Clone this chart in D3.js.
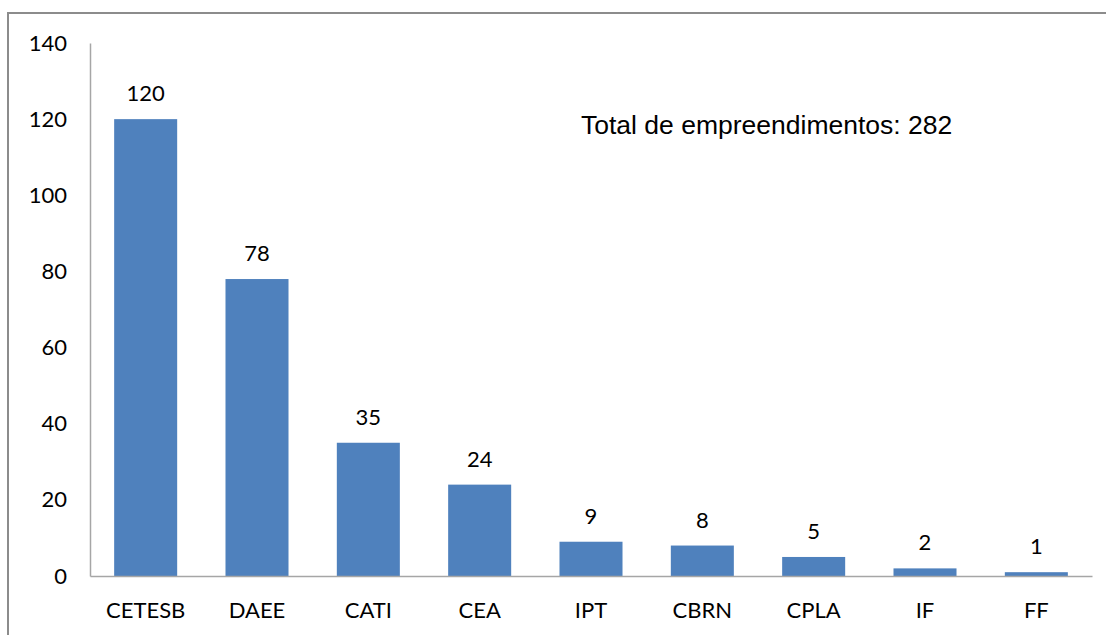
<!DOCTYPE html>
<meta charset="utf-8">
<style>
  body { margin: 0; background: #fff; }
  .tick text { font-family: Lato, "Open Sans", sans-serif; font-size: 22px; fill: #000; }
  .label { font-family: Lato, "Open Sans", sans-serif; font-size: 22px; fill: #000; }
</style>
<body>
<script src="https://d3js.org/d3.v7.min.js"></script>
<script>

// data
var categories = ["CETESB", "DAEE", "CATI", "CEA", "IPT", "CBRN", "CPLA", "IF", "FF"];
var values = [120, 78, 35, 24, 9, 8, 5, 2, 1];
var yTicks = [0, 20, 40, 60, 80, 100, 120, 140];
var totalText = "Total de empreendimentos: 282";

var W = 1106, H = 635;
var margin = {top: 43, right: 14, bottom: 59, left: 90},
    width = 1092 - margin.left,
    height = 576 - margin.top;

var svg = d3.select("body").append("svg")
    .attr("width", W)
    .attr("height", H);

// outer frame (right and bottom edges fall outside the picture)
svg.append("rect")
    .attr("x", 8).attr("y", 13)
    .attr("width", 1110).attr("height", 640)
    .attr("fill", "none")
    .attr("stroke", "#8c8c8c")
    .attr("stroke-width", 2);

var g = svg.append("g")
    .attr("transform", "translate(" + margin.left + "," + margin.top + ")");

var x = d3.scaleBand()
    .domain(categories)
    .range([0, width])
    .paddingInner(0.434)
    .paddingOuter(0.217);

var y = d3.scaleLinear()
    .domain([0, 140])
    .range([height, 0]);

// bars
g.selectAll(".bar")
    .data(values)
  .enter().append("rect")
    .attr("class", "bar")
    .attr("x", function(d, i) { return x(categories[i]); })
    .attr("y", function(d) { return y(d); })
    .attr("width", x.bandwidth())
    .attr("height", function(d) { return height - y(d); })
    .attr("fill", "#4f81bd");

// value labels
g.selectAll(".label")
    .data(values)
  .enter().append("text")
    .attr("class", "label")
    .attr("x", function(d, i) { return x(categories[i]) + x.bandwidth() / 2; })
    .attr("y", function(d) { return y(d) - 18; })
    .attr("text-anchor", "middle")
    .text(function(d) { return d; });

// y axis
var yAxis = g.append("g")
    .call(d3.axisLeft(y).tickValues(yTicks).tickSize(0).tickPadding(23));
yAxis.select(".domain").attr("stroke", "#a6a6a6").attr("stroke-width", 1.5);

// x axis
var xAxis = g.append("g")
    .attr("transform", "translate(0," + height + ")")
    .call(d3.axisBottom(x).tickSize(0).tickPadding(26));
xAxis.select(".domain").attr("stroke", "#a6a6a6").attr("stroke-width", 1.5);

// total annotation
svg.append("text")
    .attr("x", 581)
    .attr("y", 134)
    .attr("font-family", "Liberation Sans, Arial, sans-serif")
    .attr("font-size", 26.5)
    .attr("fill", "#000")
    .text(totalText);

</script>
</body>
